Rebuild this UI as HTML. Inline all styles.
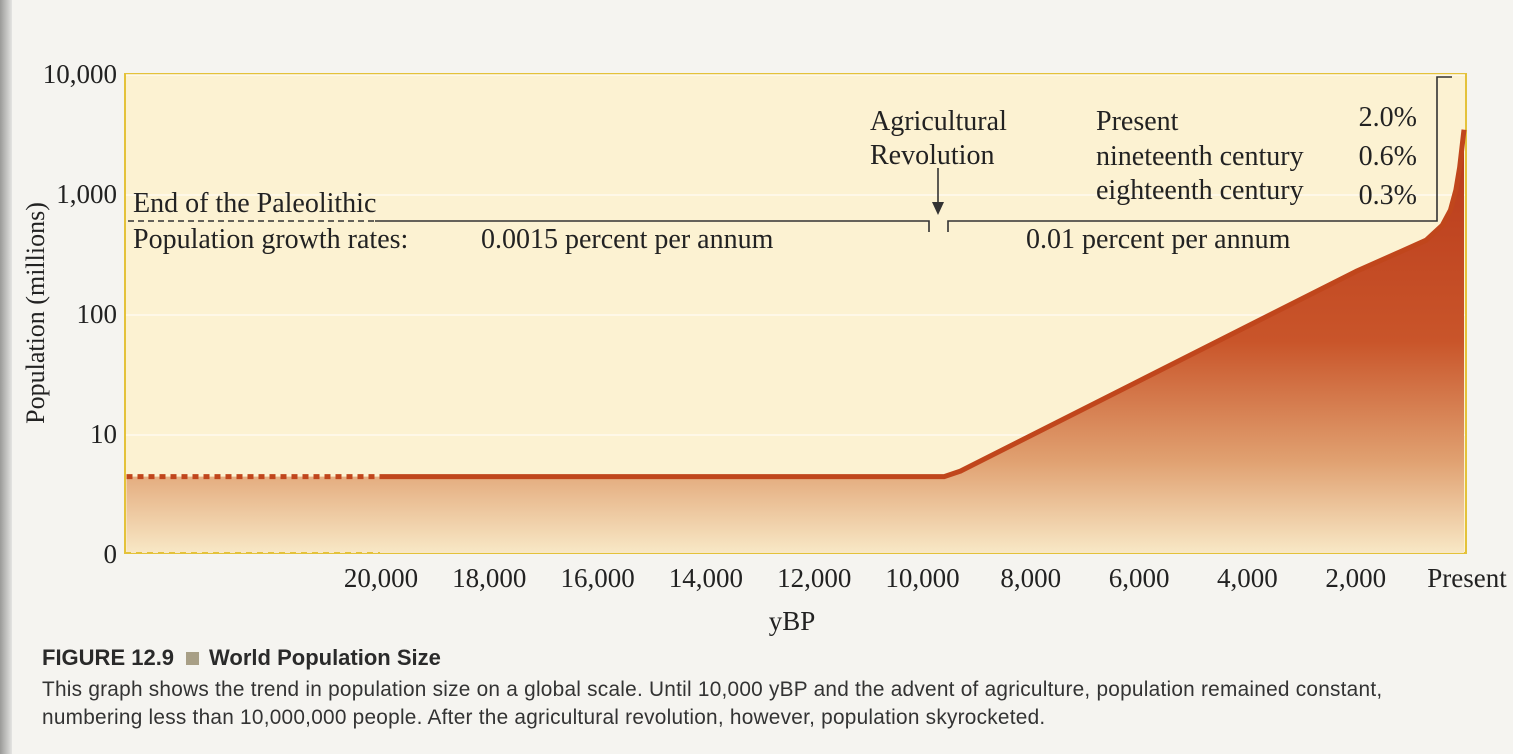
<!DOCTYPE html>
<html><head><meta charset="utf-8"><style>
body{margin:0;width:1513px;height:754px;background:#f5f4f0;overflow:hidden;font-family:"Liberation Serif",serif;position:relative}
#binding{position:absolute;left:0;top:0;width:12px;height:754px;background:linear-gradient(90deg,#9a9a98,#e4e4e2)}
#cap-title{position:absolute;left:42px;top:645px;font:bold 22px "Liberation Sans",sans-serif;color:#2a2a2a}
#cap-body{position:absolute;left:42px;top:676px;font:20.8px/28px "Liberation Sans",sans-serif;color:#333;width:1450px;white-space:nowrap;letter-spacing:0.25px}
.sq{display:inline-block;width:13px;height:13px;background:#a89f86;margin:0 10px 0 12px}
</style></head><body>
<div id="binding"></div>
<svg id="chart" width="1513" height="640" style="position:absolute;left:0;top:0">
<defs>
<linearGradient id="fillg" gradientUnits="userSpaceOnUse" x1="0" y1="130" x2="0" y2="553">
<stop offset="0" stop-color="#b8381a"/><stop offset="0.5" stop-color="#c9552a"/><stop offset="0.78" stop-color="#e0a070"/><stop offset="1" stop-color="#f8e8c6"/>
</linearGradient>
</defs>
<rect x="125" y="74" width="1341" height="479" fill="#fcf2d2" stroke="#e4c23a" stroke-width="2"/>
<g id="grid"></g>
<path id="area" fill="url(#fillg)"/>
<path id="line" fill="none" stroke="#c0461c" stroke-width="5" stroke-linejoin="round"/>
<line id="dotline" stroke="#c0461c" stroke-width="5" stroke-dasharray="6,5"/>
<line x1="125" y1="553" x2="380" y2="553" stroke="#e4c23a" stroke-width="2" stroke-dasharray="6,5"/>
<g id="yticks" font-size="27" fill="#222" text-anchor="end"></g>
<g id="xticks" font-size="27" fill="#222" text-anchor="middle"></g>
<text x="44" y="313" font-size="26" fill="#222" text-anchor="middle" transform="rotate(-90 44 313)">Population (millions)</text>
<text x="792" y="630" font-size="27" fill="#222" text-anchor="middle">yBP</text>
<g font-size="28" fill="#222">
<text x="133" y="212">End of the Paleolithic</text>
<text x="133" y="248">Population growth rates:</text>
<text x="481" y="248">0.0015 percent per annum</text>
<text x="1026" y="248">0.01 percent per annum</text>
<text x="870" y="130">Agricultural</text>
<text x="870" y="164">Revolution</text>
<text x="1096" y="130">Present</text>
<text x="1096" y="165">nineteenth century</text>
<text x="1096" y="199">eighteenth century</text>
<text x="1417" y="126" text-anchor="end">2.0%</text>
<text x="1417" y="165" text-anchor="end">0.6%</text>
<text x="1417" y="204" text-anchor="end">0.3%</text>
</g>
<g stroke="#333" stroke-width="1.6" fill="none">
<line x1="128" y1="221" x2="375" y2="221" stroke-dasharray="6,4"/>
<polyline points="375,221 929,221 929,232"/>
<polyline points="948,232 948,221 1437,221 1437,77 1452,77"/>
<line x1="938" y1="168" x2="938" y2="205"/>
</g>
<polygon points="932,202 944,202 938,215" fill="#333"/>
</svg>
<div id="cap-title">FIGURE 12.9<span class="sq"></span>World Population Size</div>
<div id="cap-body">This graph shows the trend in population size on a global scale. Until 10,000 yBP and the advent of agriculture, population remained constant,<br>numbering less than 10,000,000 people. After the agricultural revolution, however, population skyrocketed.</div>
<script>
const years = [20000, 9600, 9300, 2000, 700, 400, 250, 150, 80, 0];
const population = [4.5, 4.5, 5, 230, 420, 560, 750, 1100, 1700, 3500];
const dottedYears = [24700, 20000];
const dottedPop = [4.5, 4.5];
const yTickValues = [10000, 1000, 100, 10];
const yTickLabels = ["10,000", "1,000", "100", "10"];
const xTickValues = [20000, 18000, 16000, 14000, 12000, 10000, 8000, 6000, 4000, 2000, 0];
const xTickLabels = ["20,000","18,000","16,000","14,000","12,000","10,000","8,000","6,000","4,000","2,000","Present"];
const NS='http://www.w3.org/2000/svg';
function xs(y){return 381 + (20000 - y) / 2000 * 108.3;}
function ys(v){return 555 - Math.log10(v) * 120;}
const yt=document.getElementById('yticks'), xt=document.getElementById('xticks'), grid=document.getElementById('grid');
yTickValues.forEach((v,i)=>{
 const t=document.createElementNS(NS,'text');
 t.setAttribute('x',117);t.setAttribute('y',ys(v)+8);t.textContent=yTickLabels[i];
 
 
 yt.appendChild(t);
 const g=document.createElementNS(NS,'line');
 g.setAttribute('x1',126);g.setAttribute('x2',1465);g.setAttribute('y1',ys(v));g.setAttribute('y2',ys(v));
 g.setAttribute('stroke','#fffaf0');g.setAttribute('stroke-width','1.5');
 
 
 grid.appendChild(g);
});
const z=document.createElementNS(NS,'text');
z.setAttribute('x',117);z.setAttribute('y',563);z.textContent='0';


yt.appendChild(z);
xTickValues.forEach((v,i)=>{
 const t=document.createElementNS(NS,'text');
 t.setAttribute('x',xs(v)+(v===0?3:0));t.setAttribute('y',587);t.textContent=xTickLabels[i];
 
 
 xt.appendChild(t);
});
let d='';years.forEach((y,i)=>{d+=(i?'L':'M')+xs(y)+','+ys(population[i]);});
document.getElementById('line').setAttribute('d',d);
const x0=xs(dottedYears[0]);
document.getElementById('area').setAttribute('d','M'+x0+',553 L'+x0+','+ys(dottedPop[0])+' '+d.replace('M','L')+' L'+xs(years[years.length-1])+',553 Z');
const dl=document.getElementById('dotline');
dl.setAttribute('x1',x0);dl.setAttribute('x2',xs(dottedYears[1]));dl.setAttribute('y1',ys(dottedPop[0]));dl.setAttribute('y2',ys(dottedPop[1]));
</script>
</body></html>
